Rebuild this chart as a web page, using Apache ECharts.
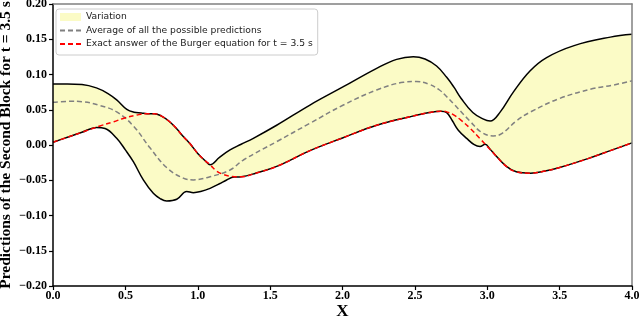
<!DOCTYPE html>
<html><head><meta charset="utf-8">
<script src="https://cdn.jsdelivr.net/npm/echarts@6/dist/echarts.min.js"></script>
<style>html,body{margin:0;padding:0;background:#fff}#c{width:640px;height:317px}</style>
</head><body><div id="c"></div>
<script>
// ---- data ----
const xTicks = [0, 0.5, 1.0, 1.5, 2.0, 2.5, 3.0, 3.5, 4.0];
const yTicks = [-0.20, -0.15, -0.10, -0.05, 0.00, 0.05, 0.10, 0.15, 0.20];

const upperX = [0,0.1,0.2,0.3,0.38,0.44,0.51,0.56,0.61,0.65,0.7,0.75,0.8,0.85,0.9,0.95,1.0,1.05,1.085,1.15,1.223,1.3,1.384,1.545,1.775,2.006,2.236,2.374,2.489,2.57,2.65,2.72,2.77,2.82,2.9,2.97,3.02,3.09,3.18,3.295,3.41,3.6,3.85,4.0];
const upperY = [0.0865,0.0865,0.0858,0.081,0.073,0.064,0.0505,0.0465,0.0455,0.0445,0.0445,0.041,0.034,0.024,0.012,0.001,-0.012,-0.022,-0.028,-0.0175,-0.007,0.001,0.0095,0.028,0.0567,0.0827,0.1088,0.1215,0.1253,0.122,0.112,0.096,0.082,0.066,0.046,0.037,0.034,0.047,0.075,0.105,0.124,0.141,0.153,0.157];

const lowerX = [0,0.1,0.2,0.3,0.36,0.44,0.5,0.555,0.624,0.693,0.74,0.785,0.855,0.924,0.97,1.02,1.085,1.15,1.2,1.25,1.3,1.4,1.55,1.775,2.0,2.236,2.466,2.6,2.68,2.72,2.76,2.8,2.86,2.91,2.95,2.985,3.02,3.05,3.13,3.2,3.3,3.4,3.5,3.7,3.85,4.0];
const lowerY = [0.004,0.011,0.018,0.025,0.0235,0.0095,-0.007,-0.0237,-0.0496,-0.0686,-0.076,-0.0794,-0.077,-0.066,-0.0676,-0.066,-0.0615,-0.055,-0.0496,-0.0455,-0.045,-0.040,-0.030,-0.008,0.010,0.028,0.040,0.046,0.048,0.046,0.034,0.021,0.009,0.0005,-0.002,0.001,-0.006,-0.013,-0.030,-0.038,-0.040,-0.037,-0.032,-0.019,-0.008,0.003];

const avgX = [0,0.12,0.2,0.325,0.44,0.555,0.67,0.785,0.9,0.97,1.085,1.223,1.315,1.545,1.775,2.006,2.236,2.42,2.51,2.6,2.67,2.72,2.765,2.88,2.96,3.04,3.1,3.2,3.3,3.5,3.73,3.87,4.0];
const avgY = [0.0605,0.062,0.0615,0.056,0.047,0.027,-0.004,-0.032,-0.047,-0.0495,-0.045,-0.0355,-0.0213,0.0047,0.0308,0.0567,0.078,0.0889,0.090,0.086,0.078,0.0685,0.059,0.034,0.018,0.0128,0.016,0.034,0.047,0.066,0.080,0.085,0.091];

const exactX = [0,0.1,0.2,0.325,0.42,0.49,0.58,0.65,0.7,0.75,0.8,0.85,0.9,0.95,1.0,1.05,1.085,1.13,1.18,1.23,1.3,1.4,1.55,1.775,2.0,2.236,2.466,2.6,2.68,2.72,2.765,2.82,2.88,2.95,3.0,3.05,3.13,3.2,3.3,3.4,3.5,3.7,3.85,4.0];
const exactY = [0.004,0.011,0.018,0.027,0.033,0.038,0.0425,0.0445,0.0445,0.041,0.034,0.024,0.012,0.001,-0.012,-0.022,-0.028,-0.037,-0.042,-0.0445,-0.045,-0.040,-0.030,-0.008,0.010,0.028,0.040,0.046,0.048,0.047,0.043,0.035,0.024,0.009,-0.002,-0.013,-0.030,-0.038,-0.040,-0.037,-0.032,-0.019,-0.008,0.003];

const nameVar = 'Variation';
const nameAvg = 'Average of all the possible predictions';
const nameExact = 'Exact answer of the Burger equation for t = 3.5 s';
const xName = 'X';
const yName = 'Predictions of the Second Block for t = 3.5 s';

// ---- chart ----
const pairs = (xs, ys) => xs.map((x, i) => [x, ys[i]]);
const fill = '#fbfbc6';
const serif = 'Liberation Serif';
const sm = 0.4;
const chart = echarts.init(document.getElementById('c'), null, {renderer: 'canvas'});

const tickLabel = {fontFamily: serif, fontWeight: 'bold', fontSize: 12, color: '#000'};

chart.setOption({
  animation: false,
  grid: {left: 53, right: 8, top: 4, bottom: 31, containLabel: false, outerBoundsMode: 'none'},
  legend: {
    left: 56, top: 9, orient: 'vertical',
    data: [
      {name: nameVar, icon: 'rect'},
      {name: nameAvg, itemStyle: {opacity: 0}},
      {name: nameExact, itemStyle: {opacity: 0}}
    ],
    itemWidth: 21, itemHeight: 8, itemGap: 1.5,
    textStyle: {fontFamily: 'DejaVu Sans', fontSize: 9.2, color: '#222', lineHeight: 12},
    backgroundColor: 'rgba(255,255,255,0.85)', borderColor: '#cccccc', borderWidth: 1, borderRadius: 3,
    padding: [2, 5, 5, 3]
  },
  xAxis: [{
    type: 'value', min: xTicks[0], max: xTicks[xTicks.length - 1], interval: 0.5, z: 10,
    axisLine: {onZero: false, lineStyle: {color: '#000', width: 1.5}},
    axisTick: {length: 4, lineStyle: {color: '#000', width: 1.2}},
    axisLabel: Object.assign({margin: 4, formatter: v => v.toFixed(1)}, tickLabel),
    splitLine: {show: false},
    name: xName, nameLocation: 'middle', nameGap: 17, nameMoveOverlap: false,
    nameTextStyle: {fontFamily: serif, fontWeight: 'bold', fontSize: 17, color: '#000'}
  }, {
    type: 'value', position: 'top', min: 0, max: 4, z: 10,
    axisLine: {onZero: false, lineStyle: {color: '#808080', width: 1.5}},
    axisTick: {show: false}, axisLabel: {show: false}, splitLine: {show: false}
  }],
  yAxis: [{
    type: 'value', min: yTicks[0], max: yTicks[yTicks.length - 1], interval: 0.05, z: 10,
    axisLine: {onZero: false, lineStyle: {color: '#000', width: 1.5}},
    axisTick: {length: 4, lineStyle: {color: '#000', width: 1.2}},
    axisLabel: Object.assign({margin: 6, formatter: v => (v < 0 ? '\u2212' : '') + Math.abs(v).toFixed(2)}, tickLabel),
    splitLine: {show: false},
    name: yName, nameLocation: 'middle', nameGap: 39, nameMoveOverlap: false,
    nameTextStyle: {fontFamily: serif, fontWeight: 'bold', fontSize: 15.5, color: '#000'}
  }, {
    type: 'value', position: 'right', min: -0.2, max: 0.2, z: 10,
    axisLine: {onZero: false, lineStyle: {color: '#808080', width: 1.5}},
    axisTick: {show: false}, axisLabel: {show: false}, splitLine: {show: false}
  }],
  series: [
    {name: nameVar, type: 'bar', data: [], itemStyle: {color: fill}},
    {type: 'line', data: pairs(upperX, upperY), smooth: sm, symbol: 'none', z: 2,
     lineStyle: {color: '#000', width: 1.5}, areaStyle: {color: fill, opacity: 1, origin: 'start'}},
    {type: 'line', data: pairs(lowerX, lowerY), smooth: sm, symbol: 'none', z: 3,
     lineStyle: {color: '#000', width: 1.5}, areaStyle: {color: '#ffffff', opacity: 1, origin: 'start'}},
    {name: nameAvg, type: 'line', data: pairs(avgX, avgY), smooth: sm, symbol: 'none', z: 4,
     itemStyle: {color: '#808080'},
     lineStyle: {color: '#808080', width: 1.5, type: [5, 3]}},
    {name: nameExact, type: 'line', data: pairs(exactX, exactY), smooth: sm, symbol: 'none', z: 5,
     itemStyle: {color: '#ff0000'},
     lineStyle: {color: '#ff0000', width: 1.5, type: [5, 3]}}
  ]
});
</script></body></html>
